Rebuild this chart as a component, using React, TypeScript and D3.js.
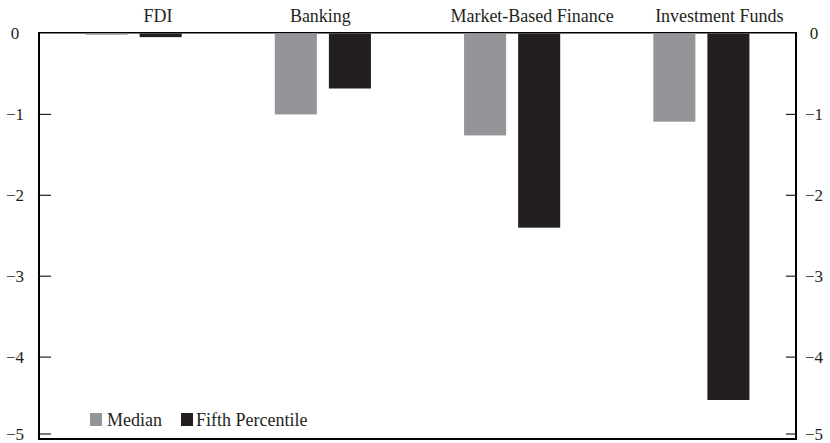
import React from "react";
import * as d3 from "d3";

const categories = ["FDI", "Banking", "Market-Based Finance", "Investment Funds"];
const seriesNames = ["Median", "Fifth Percentile"];
const medianValues = [-0.015, -1.0, -1.26, -1.09];
const fifthPercentileValues = [-0.045, -0.68, -2.4, -4.53];
const yTicks = [0, -1, -2, -3, -4, -5];

const W = 830;
const H = 443;
const plot = { left: 39, right: 796, top: 33.5, bottom: 439 };
const labelOffsets = [24.5, -2.5, 20, 18];
const colors = ["#939598", "#231f20"];
const FONT = "Liberation Serif, DejaVu Serif, serif";

export default function App() {
  const x0 = d3.scaleBand<string>().domain(categories).range([plot.left, plot.right]).padding(0);
  const x1 = d3
    .scaleBand<string>()
    .domain(seriesNames)
    .range([0, x0.bandwidth()])
    .paddingInner(12 / 54)
    .paddingOuter(0.861);
  const y = d3.scaleLinear().domain([0, -5]).range([plot.top, 438]);

  const series = [medianValues, fifthPercentileValues];
  const ts: React.CSSProperties = { fontFamily: FONT, fontSize: 17 };
  const ls: React.CSSProperties = { fontFamily: FONT, fontSize: 18 };
  const tickY = (t: number) => Math.min(y(t), 434);
  const fmt = (t: number) => (t === 0 ? "0" : "\u2212" + Math.abs(t));

  return (
    <svg width={W} height={H} style={{ position: "absolute", left: 0, top: 0, background: "#fff" }}>
      <rect x={0} y={0} width={W} height={H} fill="#fff" />
      {/* frame */}
      <line x1={plot.left - 1} x2={plot.right + 1} y1={32.75} y2={32.75} stroke="#000" strokeWidth={1.5} />
      <line x1={plot.left} x2={plot.left} y1={32} y2={plot.bottom + 1} stroke="#000" strokeWidth={2} />
      <line x1={plot.right} x2={plot.right} y1={32} y2={plot.bottom + 1} stroke="#000" strokeWidth={2} />
      <line x1={plot.left - 1} x2={plot.right + 1} y1={plot.bottom} y2={plot.bottom} stroke="#000" strokeWidth={2} />
      {/* bars */}
      {categories.map((c, ci) =>
        seriesNames.map((s, si) => {
          const v = series[si][ci];
          const y0 = y(0);
          const y1 = y(v);
          return (
            <rect
              key={c + s}
              x={(x0(c) as number) + (x1(s) as number)}
              y={Math.min(y0, y1)}
              width={x1.bandwidth()}
              height={Math.max(1.2, Math.abs(y1 - y0))}
              fill={colors[si]}
            />
          );
        })
      )}
      {/* ticks */}
      {yTicks.map((t) => (
        <g key={t}>
          {t !== 0 && (
            <>
              <line x1={plot.left} x2={plot.left + 12} y1={tickY(t)} y2={tickY(t)} stroke="#231f20" strokeWidth={1.2} />
              <line x1={plot.right - 10} x2={plot.right} y1={tickY(t)} y2={tickY(t)} stroke="#231f20" strokeWidth={1.2} />
            </>
          )}
          <text x={15} y={tickY(t)} dy="0.33em" textAnchor="middle" style={ts} fill="#231f20">
            {fmt(t)}
          </text>
          <text x={814} y={tickY(t)} dy="0.33em" textAnchor="middle" style={ts} fill="#231f20">
            {fmt(t)}
          </text>
        </g>
      ))}
      {/* category labels */}
      {categories.map((c, ci) => (
        <text
          key={c}
          x={(x0(c) as number) + x0.bandwidth() / 2 + labelOffsets[ci]}
          y={21.5}
          textAnchor="middle"
          style={ls}
          fill="#231f20"
        >
          {c}
        </text>
      ))}
      {/* legend */}
      <rect x={90} y={413} width={12} height={13} fill={colors[0]} />
      <text x={107} y={426} style={ls} fill="#231f20">
        {seriesNames[0]}
      </text>
      <rect x={181} y={413} width={12} height={13} fill={colors[1]} />
      <text x={196} y={426} style={ls} fill="#231f20">
        {seriesNames[1]}
      </text>
    </svg>
  );
}
